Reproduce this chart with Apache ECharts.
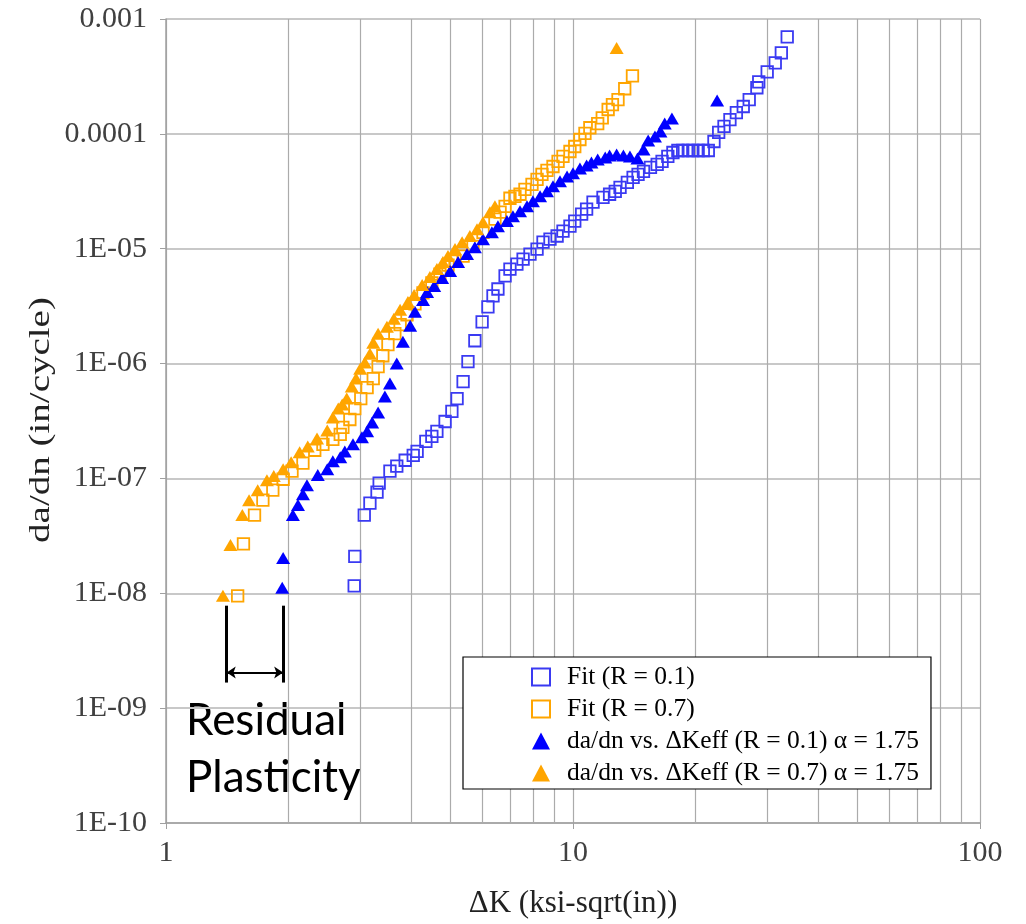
<!DOCTYPE html>
<html><head><meta charset="utf-8">
<script src="https://cdn.jsdelivr.net/npm/echarts@6/dist/echarts.min.js"></script>
<style>html,body{margin:0;padding:0;background:#fff}#c{width:1026px;height:924px}</style>
</head><body><div id="c"></div>
<script>
// ---- Data ----
const fitR01_K = [2.90,2.91,3.07,3.17,3.30,3.34,3.55,3.69,3.87,4.05,
  4.14,4.35,4.50,4.63,4.85,5.04,5.19,5.37,5.52,5.74,
  5.98,6.18,6.36,6.54,6.81,7.00,7.28,7.54,7.84,8.16,
  8.44,8.78,9.14,9.45,9.83,10.1,10.5,10.8,11.2,11.85,
  12.3,12.7,13.05,13.6,14.05,14.45,14.9,15.5,16.1,16.55,
  17.1,17.6,18.1,18.6,19.2,19.7,20.3,20.9,21.5,22.2,
  22.8,23.5,24.3,25.2,26.2,27.1,28.3,28.6,30.0,31.4,32.5,33.6];
const fitR01_rate = [1.16e-8,2.1e-8,4.8e-8,6.1e-8,7.6e-8,9.1e-8,1.16e-7,1.28e-7,1.44e-7,1.59e-7,
  1.72e-7,2.10e-7,2.32e-7,2.57e-7,3.13e-7,3.83e-7,4.96e-7,6.97e-7,1.04e-6,1.58e-6,
  2.31e-6,3.12e-6,3.88e-6,4.46e-6,5.79e-6,6.65e-6,7.35e-6,8.12e-6,8.98e-6,9.9e-6,
  1.14e-5,1.21e-5,1.29e-5,1.42e-5,1.57e-5,1.74e-5,2.0e-5,2.21e-5,2.54e-5,2.80e-5,
  2.98e-5,3.16e-5,3.42e-5,3.78e-5,4.18e-5,4.44e-5,4.71e-5,5.10e-5,5.42e-5,5.75e-5,
  6.36e-5,6.88e-5,7.16e-5,7.16e-5,7.16e-5,7.16e-5,7.16e-5,7.16e-5,7.16e-5,8.58e-5,
  1.03e-4,1.16e-4,1.33e-4,1.53e-4,1.73e-4,1.99e-4,2.52e-4,2.84e-4,3.47e-4,4.15e-4,5.07e-4,6.98e-4];

const fitR07_K = [1.50,1.55,1.65,1.73,1.83,1.94,2.04,2.17,2.32,2.43,
  2.57,2.68,2.72,2.83,2.91,3.01,3.12,3.23,3.32,3.41,
  3.51,3.65,3.76,3.91,4.09,4.28,4.50,4.71,4.93,5.13,
  5.37,5.68,6.01,6.43,6.62,6.81,7.00,7.20,7.41,7.62,
  7.93,8.16,8.39,8.63,8.93,9.19,9.45,9.83,10.1,10.4,
  10.7,11.0,11.5,11.8,12.2,12.5,12.9,13.4,14.0];
const fitR07_rate = [9.5e-9,2.69e-8,4.8e-8,6.47e-8,7.9e-8,9.84e-8,1.16e-7,1.36e-7,1.76e-7,1.98e-7,
  2.19e-7,2.42e-7,2.78e-7,3.26e-7,4.06e-7,4.96e-7,6.18e-7,7.40e-7,9.40e-7,1.17e-6,
  1.46e-6,1.82e-6,2.18e-6,2.66e-6,3.31e-6,4.12e-6,5.03e-6,6.02e-6,7.21e-6,7.81e-6,
  8.63e-6,1.05e-5,1.39e-5,1.81e-5,2.08e-5,2.34e-5,2.75e-5,2.86e-5,2.98e-5,3.29e-5,
  3.63e-5,4.01e-5,4.44e-5,4.81e-5,5.20e-5,5.75e-5,6.36e-5,7.02e-5,7.76e-5,8.93e-5,
  1.01e-4,1.13e-4,1.23e-4,1.38e-4,1.63e-4,1.80e-4,1.99e-4,2.47e-4,3.20e-4];

const effR01_K = [1.93,1.94,2.05,2.11,2.17,2.22,2.36,2.49,2.57,2.68,
  2.75,2.88,3.03,3.12,3.21,3.32,3.45,3.55,3.69,3.82,
  3.98,4.09,4.28,4.38,4.56,4.77,4.99,5.22,5.49,5.74,
  6.01,6.32,6.54,6.88,7.12,7.41,7.71,7.97,8.30,8.63,
  8.93,9.29,9.67,10.0,10.4,10.8,11.1,11.5,12.0,12.3,
  12.8,13.3,13.8,14.4,14.9,15.3,15.9,16.4,16.8,17.5,22.6];
const effR01_rate = [1.12e-8,2.03e-8,4.8e-8,5.86e-8,7.29e-8,8.73e-8,1.07e-7,1.20e-7,1.41e-7,1.53e-7,
  1.72e-7,1.98e-7,2.28e-7,2.57e-7,3.07e-7,3.75e-7,5.16e-7,6.69e-7,1.0e-6,1.55e-6,
  2.13e-6,2.82e-6,3.58e-6,4.20e-6,4.74e-6,5.56e-6,6.39e-6,7.65e-6,8.98e-6,1.03e-5,
  1.21e-5,1.39e-5,1.57e-5,1.74e-5,1.92e-5,2.12e-5,2.34e-5,2.59e-5,2.86e-5,3.16e-5,
  3.49e-5,3.86e-5,4.26e-5,4.53e-5,5.0e-5,5.31e-5,5.64e-5,5.98e-5,6.23e-5,6.48e-5,
  6.61e-5,6.48e-5,6.36e-5,6.11e-5,7.31e-5,8.75e-5,9.48e-5,1.05e-4,1.23e-4,1.36e-4,1.95e-4];

const effR07_K = [1.38,1.44,1.54,1.60,1.68,1.77,1.84,1.94,2.03,2.13,
  2.23,2.35,2.49,2.57,2.65,2.71,2.78,2.86,2.93,3.00,
  3.08,3.17,3.23,3.32,3.49,3.63,3.76,3.93,4.07,4.26,
  4.45,4.63,4.79,4.93,5.13,5.34,5.58,5.81,6.01,6.25,6.43,12.8];
const effR07_rate = [9.5e-9,2.63e-8,4.8e-8,6.47e-8,7.9e-8,9.65e-8,1.05e-7,1.20e-7,1.38e-7,1.69e-7,
  1.90e-7,2.23e-7,2.62e-7,3.40e-7,4.06e-7,4.40e-7,4.96e-7,6.31e-7,7.40e-7,9.03e-7,
  1.02e-6,1.22e-6,1.52e-6,1.82e-6,2.09e-6,2.45e-6,2.94e-6,3.44e-6,3.96e-6,4.83e-6,
  5.67e-6,6.65e-6,7.65e-6,8.63e-6,9.92e-6,1.14e-5,1.29e-5,1.48e-5,1.70e-5,2.08e-5,2.34e-5,5.60e-4];

const seriesNames = ['Fit (R = 0.1)', 'Fit (R = 0.7)',
  'da/dn vs. ΔKeff (R = 0.1) α = 1.75', 'da/dn vs. ΔKeff (R = 0.7) α = 1.75'];
const xTickLabels = ['1', '10', '100'];
const yTickLabels = ['1E-10','1E-09','1E-08','1E-07','1E-06','1E-05','0.0001','0.001'];
const xAxisTitle = 'ΔK (ksi-sqrt(in))';
const yAxisTitle = 'da/dn (in/cycle)';
const minorX = [2,3,4,5,6,7,8,9,20,30,40,50,60,70,80,90];
// annotation: residual plasticity bracket
const residualK = [1.41, 1.94];
const residualRateSpan = [7.8e-9, 1.67e-9];
const residualArrowRate = 2.04e-9;
const annotationLines = ['Residual', 'Plasticity'];

// ---- Chart ----
const zip = (xs, ys) => xs.map((x, i) => [x, ys[i]]);
const serif = '"Liberation Serif", "Times New Roman", serif';
const blueSq = '#3a3af2', blue = '#0000ff', orange = '#ffa500';

const chart = echarts.init(document.getElementById('c'), null, { renderer: 'canvas' });
const option = {
  animation: false,
  backgroundColor: '#ffffff',
  grid: { left: 166, right: 46, top: 19, bottom: 98 },
  xAxis: {
    type: 'log', logBase: 10, min: 1, max: 100,
    name: xAxisTitle, nameLocation: 'middle', nameGap: 65,
    nameTextStyle: { fontFamily: serif, fontSize: 31, color: '#222' },
    axisLine: { show: true, onZero: false, lineStyle: { color: '#a0a0a0', width: 1.5 } },
    axisTick: { show: true, length: 6, lineStyle: { color: '#a0a0a0' } },
    axisLabel: { fontFamily: serif, fontSize: 30, color: '#404040', margin: 15,
      formatter: v => xTickLabels[Math.round(Math.log10(v))] },
    splitLine: { show: true, lineStyle: { color: '#ababab', width: 1.2 } }
  },
  yAxis: {
    type: 'log', logBase: 10, min: 1e-10, max: 1e-3,
    axisLine: { show: true, onZero: false, lineStyle: { color: '#a0a0a0', width: 1.5 } },
    axisTick: { show: true, length: 6, lineStyle: { color: '#a0a0a0' } },
    axisLabel: { fontFamily: serif, fontSize: 30, color: '#404040', margin: 19,
      showMinLabel: true, showMaxLabel: true,
      formatter: v => yTickLabels[Math.round(Math.log10(v)) + 10] },
    splitLine: { show: true, lineStyle: { color: '#c8c8c8', width: 2 } }
  },
  legend: {
    orient: 'vertical', left: 463, top: 657,
    padding: [7, 12, 3, 68],
    borderColor: '#000', borderWidth: 1.2, backgroundColor: '#fff',
    itemWidth: 18, itemHeight: 17, itemGap: 6,
    textStyle: { fontFamily: serif, fontSize: 25.5, lineHeight: 25, color: '#000', padding: [0, 0, 0, 12] },
    data: [
      { name: seriesNames[0], icon: 'rect', itemStyle: { color: 'transparent', borderColor: blueSq, borderWidth: 2 } },
      { name: seriesNames[1], icon: 'rect', itemStyle: { color: 'transparent', borderColor: orange, borderWidth: 2 } },
      { name: seriesNames[2], icon: 'triangle', itemStyle: { color: blue } },
      { name: seriesNames[3], icon: 'triangle', itemStyle: { color: orange } }
    ]
  },
  graphic: [
    { type: 'text', x: 41, y: 420, rotation: Math.PI / 2, scaleX: 1.3,
      style: { text: yAxisTitle, font: '30px "Liberation Serif"', fill: '#222', align: 'center', verticalAlign: 'middle' } },
    { type: 'text', left: 186, top: 699, style: { text: annotationLines[0], font: '44px Lato', fill: '#000' } },
    { type: 'text', left: 186, top: 756, style: { text: annotationLines[1], font: '44px Lato', fill: '#000' } }
  ],
  series: [
    {
      type: 'scatter', name: '_minor', data: [], silent: true,
      markLine: {
        silent: true, z: 1, symbol: 'none', label: { show: false },
        lineStyle: { color: '#ababab', width: 1.2, type: 'solid' },
        emphasis: { disabled: true },
        data: minorX.map(v => ({ xAxis: v }))
      }
    },
    {
      type: 'scatter', name: seriesNames[0], data: zip(fitR01_K, fitR01_rate),
      symbol: 'rect', symbolSize: 11.5,
      itemStyle: { color: 'transparent', borderColor: blueSq, borderWidth: 1.8, opacity: 1 },
      emphasis: { disabled: true }
    },
    {
      type: 'scatter', name: seriesNames[1], data: zip(fitR07_K, fitR07_rate),
      symbol: 'rect', symbolSize: 11.5,
      itemStyle: { color: 'transparent', borderColor: orange, borderWidth: 1.8, opacity: 1 },
      emphasis: { disabled: true }
    },
    {
      type: 'scatter', name: seriesNames[2], data: zip(effR01_K, effR01_rate),
      symbol: 'triangle', symbolSize: [14, 12],
      itemStyle: { color: blue, opacity: 1 },
      emphasis: { disabled: true }
    },
    {
      type: 'scatter', name: seriesNames[3], data: zip(effR07_K, effR07_rate),
      symbol: 'triangle', symbolSize: [14, 12],
      itemStyle: { color: orange, opacity: 1 },
      emphasis: { disabled: true }
    },
    {
      type: 'scatter', name: '_annot', data: [], silent: true,
      markLine: {
        silent: true, z: 6, label: { show: false }, emphasis: { disabled: true },
        data: [
          [{ coord: [residualK[0], residualRateSpan[0]], symbol: 'none', lineStyle: { color: '#000', width: 3, type: 'solid' } },
           { coord: [residualK[0], residualRateSpan[1]], symbol: 'none' }],
          [{ coord: [residualK[1], residualRateSpan[0]], symbol: 'none', lineStyle: { color: '#000', width: 3, type: 'solid' } },
           { coord: [residualK[1], residualRateSpan[1]], symbol: 'none' }],
          [{ coord: [residualK[0], residualArrowRate], symbol: 'arrow', symbolSize: 9, lineStyle: { color: '#000', width: 2, type: 'solid' } },
           { coord: [residualK[1], residualArrowRate], symbol: 'arrow', symbolSize: 9 }]
        ]
      }
    }
  ]
};
chart.setOption(option);
</script>
</body></html>
